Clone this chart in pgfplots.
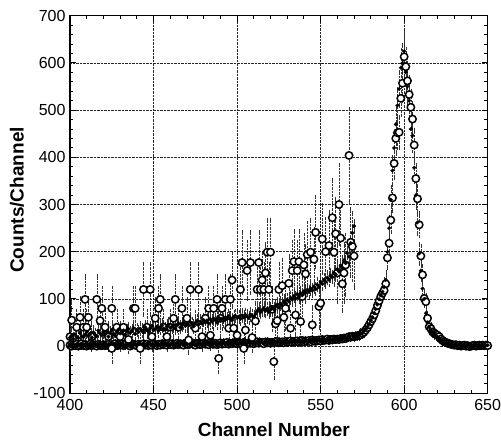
\documentclass[border=0pt]{standalone}
\usepackage{pgfplots}
\pgfplotsset{compat=1.18}
\usepackage{pgfplotstable}
\usepackage{fontspec}
\setmainfont{Liberation Sans}

% noisy open-circle series (x, counts, error)
\pgfplotstableread[row sep=\\]{
x y e\\
400 20 30\\401 55 40\\404 40 35\\406 61 42\\408 40 35\\409 99 50\\410 40 35\\411 61 42\\413 20 30\\416 99 50\\
418 54 40\\419 80 45\\421 40 35\\423 20 30\\425 80 45\\425 -5 30\\428 40 35\\430 20 30\\432 40 35\\435 14 28\\
438 80 45\\439 80 45\\442 -5 30\\444 120 55\\446 40 35\\448 120 55\\449 20 30\\451 59 42\\453 80 45\\454 99 50\\
456 40 35\\458 20 30\\460 40 35\\462 59 42\\463 99 50\\465 40 35\\467 80 45\\470 59 42\\471 13 28\\472 120 55\\
475 38 35\\477 120 55\\479 20 30\\481 59 42\\483 80 45\\484 23 30\\486 80 45\\488 99 50\\489 -26 30\\490 59 42\\
491 80 45\\493 99 50\\495 38 35\\496 99 50\\497 140 58\\498 38 35\\500 23 30\\502 120 55\\503 177 65\\504 -5 30\\
505 34 35\\506 160 62\\508 177 65\\509 18 30\\511 53 40\\512 120 55\\513 177 65\\514 120 55\\515 140 58\\516 120 55\\
517 155 62\\518 199 70\\519 120 55\\520 199 70\\521 78 45\\522 -33 35\\523 47 40\\524 54 40\\525 120 55\\527 128 56\\
528 61 42\\529 80 45\\531 133 58\\532 38 35\\533 160 62\\534 179 65\\535 66 43\\536 160 62\\537 179 65\\538 52 40\\
539 105 52\\540 172 64\\541 153 60\\542 194 68\\544 199 70\\545 45 38\\546 184 66\\547 241 75\\549 84 46\\550 91 48\\
551 227 73\\553 200 70\\555 213 72\\557 272 80\\558 199 70\\559 238 75\\560 155 62\\561 300 85\\562 229 73\\563 132 58\\
564 155 62\\565 172 64\\567 404 100\\568 220 72\\569 211 72\\570 191 68\\
}\noisy

% rising filled-dot series
\pgfplotstableread[row sep=\\]{
x y\\
400 18\\401 22\\402 15\\403 25\\404 20\\405 17\\406 28\\407 21\\408 19\\409 24\\410 30\\
411 22\\412 26\\413 18\\414 29\\415 24\\416 21\\417 33\\418 27\\419 23\\420 30\\
421 25\\422 31\\423 20\\424 28\\425 34\\426 26\\427 22\\428 30\\429 35\\430 27\\
431 29\\432 33\\433 24\\434 31\\435 36\\436 28\\437 32\\438 38\\439 26\\440 34\\
441 30\\442 37\\443 33\\444 29\\445 40\\446 35\\447 31\\448 38\\449 42\\450 34\\
451 36\\452 41\\453 33\\454 39\\455 44\\456 37\\457 35\\458 42\\459 46\\460 39\\
461 41\\462 45\\463 38\\464 44\\465 48\\466 40\\467 46\\468 50\\469 43\\470 47\\
471 44\\472 51\\473 47\\474 42\\475 49\\476 53\\477 46\\478 52\\479 48\\480 55\\
481 50\\482 54\\483 48\\484 57\\485 52\\486 58\\487 55\\488 50\\489 60\\490 56\\
491 58\\492 54\\493 61\\494 57\\495 63\\496 59\\497 55\\498 62\\499 64\\500 60\\
501 62\\502 58\\503 65\\504 61\\505 66\\506 63\\507 60\\508 67\\509 64\\510 62\\
511 68\\512 74\\513 78\\514 72\\515 76\\516 80\\517 75\\518 79\\519 73\\520 77\\
521 81\\522 78\\523 84\\524 88\\525 82\\526 90\\527 86\\528 94\\529 91\\530 98\\
531 95\\532 102\\533 99\\534 106\\535 101\\536 110\\537 104\\538 112\\539 108\\540 116\\
541 113\\542 119\\543 115\\544 122\\545 118\\546 126\\547 121\\548 130\\549 125\\550 136\\
551 132\\552 140\\553 136\\554 145\\555 141\\556 150\\557 146\\558 155\\559 152\\560 163\\
561 158\\562 170\\563 165\\564 182\\565 176\\566 197\\567 190\\568 218\\569 240\\570 254\\
}\trend

% open-circle spectrum, baseline part
\pgfplotstableread[row sep=\\]{
x y\\
400 2\\401 0\\402 3\\403 1\\404 4\\405 0\\406 2\\407 5\\408 1\\409 3\\410 0\\411 2\\412 4\\413 1\\414 3\\415 2\\416 0\\417 4\\418 2\\419 1\\
420 3\\421 1\\422 2\\423 4\\424 0\\425 3\\426 2\\427 5\\428 1\\429 3\\430 2\\431 4\\432 1\\433 3\\434 5\\435 2\\436 0\\437 3\\438 4\\439 2\\
440 1\\441 4\\442 2\\443 3\\444 5\\445 2\\446 4\\447 1\\448 3\\449 2\\450 5\\451 3\\452 1\\453 4\\454 2\\455 5\\456 3\\457 4\\458 2\\459 6\\
460 3\\461 5\\462 2\\463 4\\464 6\\465 3\\466 5\\467 4\\468 2\\469 6\\470 4\\471 3\\472 5\\473 7\\474 4\\475 2\\476 6\\477 5\\478 3\\479 4\\
480 6\\481 4\\482 5\\483 3\\484 7\\485 5\\486 4\\487 6\\488 3\\489 5\\490 7\\491 4\\492 6\\493 5\\494 8\\495 4\\496 6\\497 5\\498 7\\499 6\\
500 5\\501 7\\502 6\\503 4\\504 8\\505 6\\506 5\\507 7\\508 6\\509 8\\510 5\\511 7\\512 9\\513 6\\514 8\\515 7\\516 5\\517 9\\518 7\\519 8\\
520 6\\521 8\\522 7\\523 9\\524 10\\525 7\\526 8\\527 9\\528 7\\529 10\\530 8\\531 9\\532 11\\533 8\\534 10\\535 9\\536 11\\537 8\\538 10\\539 12\\
540 9\\541 11\\542 10\\543 12\\544 9\\545 13\\546 11\\547 10\\548 12\\549 13\\550 11\\551 14\\552 12\\553 13\\554 15\\555 12\\556 14\\557 13\\558 15\\559 14\\
560 15\\561 14\\562 16\\563 15\\564 17\\565 16\\566 18\\567 20\\568 19\\569 21\\
}\openbase

% filled-dot spectrum, baseline part
\pgfplotstableread[row sep=\\]{
x y\\
400 1\\401 3\\402 0\\403 2\\404 1\\405 4\\406 2\\407 0\\408 3\\409 2\\410 1\\411 3\\412 0\\413 2\\414 4\\415 1\\416 3\\417 2\\418 0\\419 3\\
420 2\\421 0\\422 4\\423 1\\424 3\\425 2\\426 4\\427 0\\428 3\\429 1\\430 4\\431 2\\432 3\\433 0\\434 2\\435 4\\436 3\\437 1\\438 5\\439 3\\
440 3\\441 2\\442 5\\443 1\\444 4\\445 3\\446 2\\447 5\\448 4\\449 3\\450 1\\451 4\\452 5\\453 3\\454 2\\455 6\\456 4\\457 3\\458 5\\459 2\\
460 4\\461 6\\462 3\\463 5\\464 2\\465 6\\466 4\\467 5\\468 7\\469 3\\470 5\\471 6\\472 4\\473 2\\474 7\\475 5\\476 4\\477 6\\478 5\\479 3\\
480 5\\481 6\\482 4\\483 7\\484 5\\485 3\\486 8\\487 6\\488 4\\489 7\\490 5\\491 6\\492 8\\493 4\\494 7\\495 6\\496 5\\497 8\\498 6\\499 7\\
500 7\\501 5\\502 8\\503 6\\504 9\\505 5\\506 7\\507 8\\508 6\\509 9\\510 7\\511 6\\512 8\\513 10\\514 7\\515 9\\516 6\\517 8\\518 10\\519 7\\
520 8\\521 7\\522 10\\523 9\\524 8\\525 11\\526 9\\527 7\\528 10\\529 8\\530 11\\531 9\\532 12\\533 8\\534 10\\535 11\\536 9\\537 12\\538 10\\539 11\\
540 10\\541 12\\542 11\\543 9\\544 13\\545 12\\546 10\\547 14\\548 11\\549 12\\550 13\\551 11\\552 14\\553 12\\554 13\\555 15\\556 13\\557 12\\558 14\\559 16\\
560 14\\561 16\\562 15\\563 17\\564 16\\565 18\\566 17\\567 19\\568 18\\569 20\\
}\filledbase

% open-circle spectrum, peak part
\pgfplotstableread[row sep=\\]{
x y e\\
570 20 7\\571 21 7\\572 22 7\\573 23 8\\574 24 8\\575 27 8\\576 30 9\\577 34 9\\578 39 10\\579 45 10\\
580 52 11\\581 58 12\\582 66 13\\583 75 14\\584 86 15\\585 96 16\\586 105 16\\587 112 17\\588 118 17\\589 132 18\\
590 187 22\\591 218 23\\592 267 26\\593 314 28\\594 387 31\\595 440 33\\596 452 34\\597 453 34\\598 525 37\\599 557 38\\
600 613 40\\601 592 39\\602 562 38\\603 533 37\\604 506 36\\605 481 35\\606 426 33\\607 355 30\\608 312 28\\609 257 25\\
610 191 22\\611 151 19\\612 101 16\\613 94 16\\614 59 12\\615 41 10\\616 37 10\\617 30 9\\618 27 8\\619 25 8\\
620 23 8\\621 20 7\\622 15 6\\623 12 6\\624 9 5\\625 8 5\\626 6 5\\627 5 5\\628 4 4\\629 3 4\\
630 2 4\\631 3 4\\632 1 4\\633 2 4\\634 0 4\\635 1 4\\636 2 4\\637 0 4\\638 1 4\\639 -1 4\\
640 0 4\\641 1 4\\642 2 4\\643 0 4\\644 1 4\\645 2 4\\646 1 4\\647 2 4\\648 1 4\\649 2 4\\650 1 4\\
}\openpeak

% filled-dot spectrum, peak part
\pgfplotstableread[row sep=\\]{
x y e\\
570 19 7\\571 22 7\\572 21 7\\573 24 8\\574 26 8\\575 28 8\\576 32 9\\577 36 9\\578 41 10\\579 47 10\\
580 55 11\\581 61 12\\582 70 13\\583 78 14\\584 88 15\\585 99 16\\586 108 16\\587 115 17\\588 125 17\\589 140 18\\
590 200 22\\591 250 25\\592 310 28\\593 372 30\\594 420 32\\595 470 34\\596 510 36\\597 545 37\\598 590 38\\599 600 39\\
600 625 40\\601 580 38\\602 550 37\\603 520 36\\604 460 34\\605 446 33\\606 378 31\\607 320 28\\608 262 25\\609 196 22\\
610 160 20\\611 122 18\\612 100 16\\613 70 13\\614 50 11\\615 40 10\\616 33 9\\617 28 8\\618 25 8\\619 22 7\\
620 19 7\\621 16 6\\622 12 6\\623 9 5\\624 7 5\\625 6 5\\626 5 4\\627 4 4\\628 3 4\\629 2 4\\
630 3 4\\631 1 4\\632 2 4\\633 1 4\\634 0 4\\635 2 4\\636 1 4\\637 0 4\\638 2 4\\639 1 4\\
640 0 4\\641 1 4\\642 0 4\\643 2 4\\644 1 4\\645 0 4\\646 2 4\\647 1 4\\648 0 4\\649 1 4\\650 2 4\\
}\filledpeak

\pgfplotsset{
  openstyle/.style={only marks, mark=*, mark size=3.7pt,
    mark options={fill=white, draw=black, line width=1.5pt}},
  filledstyle/.style={only marks, mark=*, mark size=1.9pt,
    mark options={fill=black, draw=black}},
  error bars/ebar/.style={
    error bar style={densely dotted, line width=0.45pt, black!80},
    error mark options={solid, mark size=1.6pt, line width=0.45pt, black!80}},
}

\begin{document}
\begin{tikzpicture}
\useasboundingbox (-70pt,-46.7pt) rectangle (431pt,393.3pt);
\begin{axis}[
  at={(0,0)}, anchor=south west,
  scale only axis, width=417.7pt, height=377.6pt,
  xmin=400, xmax=650, ymin=-100, ymax=700,
  xtick={400,450,...,650}, ytick={-100,0,...,700},
  minor x tick num=4, minor y tick num=4,
  grid=major,
  major grid style={densely dotted, line width=0.6pt, black!85},
  tick style={line width=0.9pt, black},
  major tick length=6pt, minor tick length=3.5pt,
  axis line style={line width=1.3pt},
  tick label style={font=\fontsize{16}{19}\selectfont},
  xticklabel style={yshift=-2pt},
  yticklabel style={xshift=-1pt},
  /pgf/number format/assume math mode=true,
  /pgf/number format/set thousands separator={},
  xlabel={Channel Number}, ylabel={Counts/Channel},
  label style={font=\bfseries\fontsize{19}{22}\selectfont},
  xlabel style={at={(axis description cs:0.488,-0.097)}, anchor=center},
  ylabel style={at={(axis description cs:-0.127,0.512)}, anchor=center},
]
\addplot+[openstyle, error bars/.cd, y dir=both, y fixed=5, ebar] table[x=x,y=y]{\openbase};
\addplot+[filledstyle, error bars/.cd, y dir=both, y fixed=5, ebar] table[x=x,y=y]{\filledbase};
\addplot+[openstyle, error bars/.cd, y dir=both, y explicit, ebar] table[x=x,y=y,y error=e]{\noisy};
\addplot+[filledstyle, error bars/.cd, y dir=both, y fixed=12, ebar] table[x=x,y=y]{\trend};
\addplot+[openstyle, error bars/.cd, y dir=both, y explicit, ebar] table[x=x,y=y,y error=e]{\openpeak};
\addplot+[filledstyle, error bars/.cd, y dir=both, y explicit, ebar] table[x=x,y=y,y error=e]{\filledpeak};
\end{axis}
\end{tikzpicture}
\end{document}
